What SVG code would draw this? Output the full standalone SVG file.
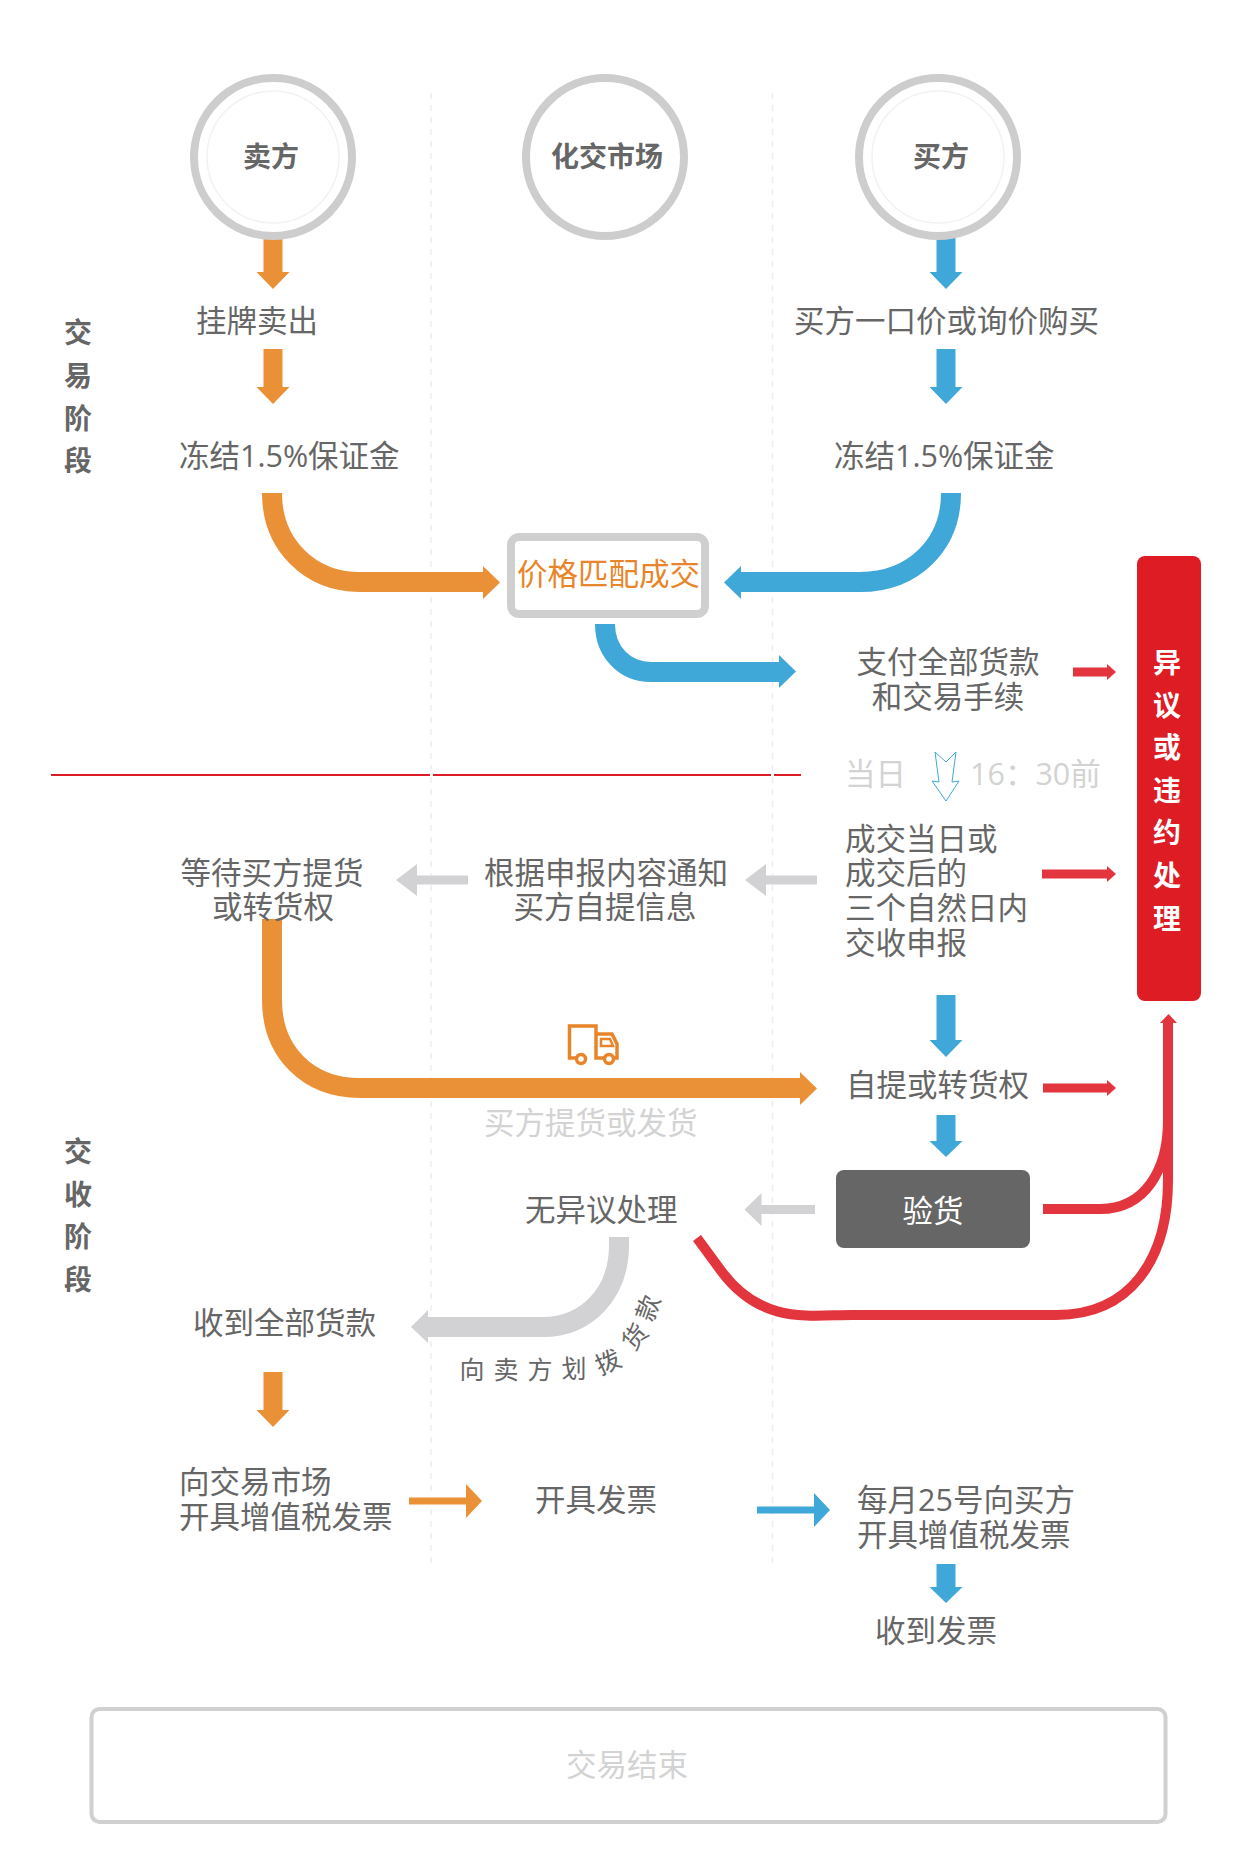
<svg xmlns="http://www.w3.org/2000/svg" width="1250" height="1872" viewBox="0 0 1250 1872">
<style>
text{font-family:"Open Sans","Noto Sans CJK SC",sans-serif;font-size:30.5px;fill:#666}
.c{text-anchor:middle}
.b{font-weight:700;font-size:28px}
.lt{fill:#d3d3d3}
.w{fill:#fff}
.o{fill:#ea9137}.bl{fill:#40a7d9}.r{fill:#e2353d}.g{fill:#d2d2d4}
.so,.sb,.sr,.sg{fill:none}
.so{stroke:#ea9137;stroke-width:20}.sb{stroke:#40a7d9;stroke-width:20}.sr{stroke:#e2353d;stroke-width:10}.sg{stroke:#d2d2d4;stroke-width:20}
.ring{fill:#fff;stroke:#cdcdcd;stroke-width:8}
.inner{fill:none;stroke:#f2f2f2;stroke-width:1.5}
.dash{stroke:#eeeeee;stroke-width:1.5;stroke-dasharray:6 6;fill:none}
</style>
<g id="guides">
<path class="dash" d="M431 93V1564M772.500 93V1564"/>
<path d="M51 775H430M433 775H771M774 775H801" stroke="#dd1c25" stroke-width="2" fill="none"/>
</g>
<g id="connectors">
<polygon class="o" points="263.500,234 282.500,234 282.500,272 289.500,272 273,289 256.500,272 263.500,272"/>
<polygon class="o" points="263.500,349 282.500,349 282.500,387 289.500,387 273,404 256.500,387 263.500,387"/>
<polygon class="bl" points="936.500,234 955.500,234 955.500,272 962.500,272 946,289 929.500,272 936.500,272"/>
<polygon class="bl" points="936.500,349 955.500,349 955.500,387 962.500,387 946,404 929.500,387 936.500,387"/>
<path class="so" d="M272 493C272 545 310 582 360 582H484"/>
<polygon class="o" points="483,566 500,582.500 483,599"/>
<path class="sb" d="M951 493C951 545 913 582 860 582H740"/>
<polygon class="bl" points="741,566 724,582.500 741,599"/>
<path class="sb" d="M605 624C605 652 625 672 651 672H780"/>
<polygon class="bl" points="779,655 796,671.500 779,688"/>
<polygon class="r" points="1073,667.500 1107,667.500 1107,664 1116,672 1107,680 1107,676.500 1073,676.500"/>
<polygon fill="#fff" stroke="#40a7d9" stroke-width="1" points="935,752 946,762 956,752 952,782 959,781 946,801 932,781 939,782"/>
<polygon class="r" points="1042,869.500 1107,869.500 1107,866 1116,874 1107,882 1107,878.500 1042,878.500"/>
<polygon class="g" points="468,875.500 417,875.500 417,864 396,880 417,896 417,884.500 468,884.500"/>
<polygon class="g" points="817,875.500 766,875.500 766,864 745,880 766,896 766,884.500 817,884.500"/>
<polygon class="bl" points="936.500,995 955.500,995 955.500,1040 962.500,1040 946,1057 929.500,1040 936.500,1040"/>
<path class="so" d="M272 919V1000C272 1052 308 1088 360 1088H801"/>
<polygon class="o" points="800,1072 817,1088.500 800,1105"/>
<polygon class="r" points="1043,1083.500 1107,1083.500 1107,1080 1116,1088 1107,1096 1107,1092.500 1043,1092.500"/>
<polygon class="bl" points="936.500,1115 955.500,1115 955.500,1141 962.500,1141 946,1157 929.500,1141 936.500,1141"/>
<polygon class="g" points="815,1205 761.500,1205 761.500,1193 744.500,1209.500 761.500,1226 761.500,1214 815,1214"/>
<path class="sr" d="M1043 1209H1100C1145 1209 1168 1170 1168 1120"/>
<path class="sr" d="M697 1238L722 1272C762 1325 810 1315 852 1315H1056C1130 1315 1168 1260 1168 1180V1023"/>
<polygon class="r" points="1160,1023 1168.500,1014 1177,1023"/>
<path class="sg" d="M619 1237V1245C619 1295 585 1327 543 1327H427"/>
<polygon class="g" points="428,1310 411,1327 428,1343"/>
<polygon class="o" points="263.500,1372 282.500,1372 282.500,1410 289.500,1410 273,1427 256.500,1410 263.500,1410"/>
<polygon class="o" points="409,1497.500 466,1497.500 466,1484 482,1501 466,1518 466,1504.500 409,1504.500"/>
<polygon class="bl" points="757,1506.500 814,1506.500 814,1493 830,1510 814,1527 814,1513.500 757,1513.500"/>
<polygon class="bl" points="936.500,1564 955.500,1564 955.500,1587 962.500,1587 946,1603 929.500,1587 936.500,1587"/>
</g>
<g id="node-seller"><circle class="ring" cx="273" cy="157" r="79"/><circle class="inner" cx="273" cy="157" r="66"/><text class="b c" x="271" y="167">卖方</text></g>
<g id="node-market"><circle class="ring" cx="605" cy="157" r="79"/><text class="b c" x="607" y="167">化交市场</text></g>
<g id="node-buyer"><circle class="ring" cx="938" cy="157" r="79"/><circle class="inner" cx="938" cy="157" r="66"/><text class="b c" x="941" y="167">买方</text></g>
<g id="stage-trade" class="stage"><text class="b c" x="78" y="343">交</text><text class="b c" x="78" y="386">易</text><text class="b c" x="78" y="429">阶</text><text class="b c" x="78" y="471">段</text></g>
<g id="stage-settle"><text class="b c" x="78" y="1162">交</text><text class="b c" x="78" y="1205">收</text><text class="b c" x="78" y="1247">阶</text><text class="b c" x="78" y="1290">段</text></g>
<g id="n1"><text x="196" y="332">挂牌卖出</text></g>
<g id="n2"><text x="179" y="467">冻结1.5%保证金</text></g>
<g id="n3"><text x="794" y="332">买方一口价或询价购买</text></g>
<g id="n4"><text x="834" y="467">冻结1.5%保证金</text></g>
<g id="n5"><rect x="511" y="537" width="194" height="77" rx="8" fill="#fff" stroke="#cfcfcf" stroke-width="8"/><text x="517" y="585" style="fill:#e8852a">价格匹配成交</text></g>
<g id="n6"><text class="c" x="948" y="673">支付全部货款</text><text class="c" x="948" y="708">和交易手续</text></g>
<g id="n7"><text class="lt" x="845" y="785">当日</text><text class="lt" x="970" y="785">16：30前</text></g>
<g id="n8"><text x="845" y="850">成交当日或</text><text x="845" y="884">成交后的</text><text x="845" y="919">三个自然日内</text><text x="845" y="954">交收申报</text></g>
<g id="n9"><rect x="1137" y="556" width="64" height="445" rx="8" fill="#de1c24"/><text class="b c w" x="1167" y="673">异</text><text class="b c w" x="1167" y="716">议</text><text class="b c w" x="1167" y="758">或</text><text class="b c w" x="1167" y="801">违</text><text class="b c w" x="1167" y="843">约</text><text class="b c w" x="1167" y="886">处</text><text class="b c w" x="1167" y="929">理</text></g>
<g id="n10"><text class="c" x="606" y="884">根据申报内容通知</text><text class="c" x="605" y="918">买方自提信息</text></g>
<g id="n11"><text class="c" x="272" y="884">等待买方提货</text><text class="c" x="273" y="918">或转货权</text></g>
<g id="truck" fill="none" stroke="#e8852a" stroke-width="3.500"><path d="M576 1058H569.500V1026H596V1058H605M596 1034H612L617 1044V1058H614"/><path d="M601 1039H610L613 1046H601Z" stroke-width="2.500"/><circle cx="581" cy="1059" r="4.500"/><circle cx="609" cy="1059" r="4.500"/></g>
<g id="n12"><text class="lt" x="484" y="1134">买方提货或发货</text></g>
<g id="n13"><text x="846" y="1096">自提或转货权</text></g>
<g id="n14"><rect x="836" y="1170" width="194" height="78" rx="8" fill="#666"/><text class="c w" x="933" y="1222">验货</text></g>
<g id="n15"><text x="525" y="1221">无异议处理</text></g>
<g id="curve-label" style="font-size:25px"><text class="c" style="font-size:25px" x="472" y="1379">向</text><text class="c" style="font-size:25px" x="506" y="1379">卖</text><text class="c" style="font-size:25px" x="540" y="1379">方</text><text class="c" style="font-size:25px" x="574" y="1378">划</text><text class="c" style="font-size:25px" transform="translate(608 1362) rotate(-25)" y="9">拨</text><text class="c" style="font-size:25px" transform="translate(635 1337) rotate(-50)" y="9">货</text><text class="c" style="font-size:25px" transform="translate(648 1308) rotate(-70)" y="9">款</text></g>
<g id="n16"><text x="193" y="1334">收到全部货款</text></g>
<g id="n17"><text x="179" y="1493">向交易市场</text><text x="179" y="1528">开具增值税发票</text></g>
<g id="n18"><text x="535" y="1511">开具发票</text></g>
<g id="n19"><text x="857" y="1511">每月25号向买方</text><text x="857" y="1546">开具增值税发票</text></g>
<g id="n20"><text x="875" y="1642">收到发票</text></g>
<g id="end"><rect x="91.500" y="1709" width="1074" height="113" rx="8" fill="#fff" stroke="#d0d0d0" stroke-width="4"/><text class="lt" x="566" y="1776">交易结束</text></g>
</svg>
